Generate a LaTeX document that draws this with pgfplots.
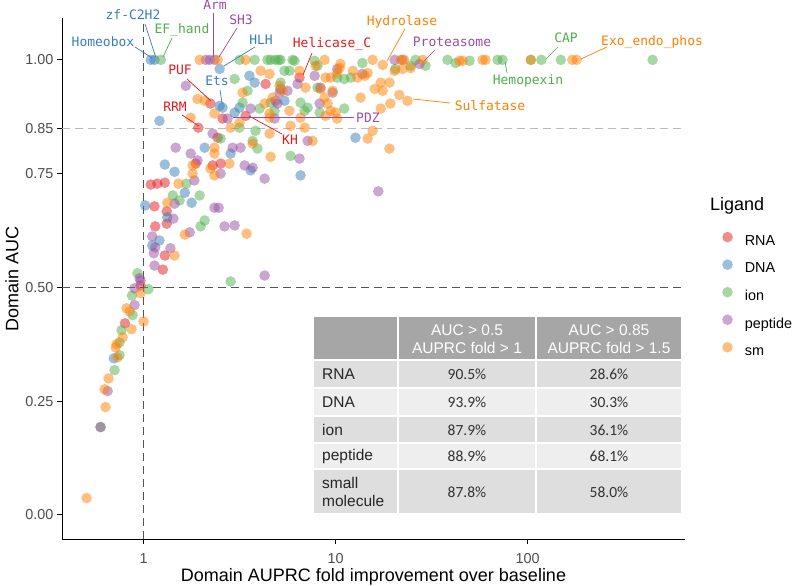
\documentclass[border=0pt]{standalone}
\usepackage{pgfplots}
\pgfplotsset{compat=1.18}
\usepackage{fontspec}
\setmainfont{Liberation Sans}
\newfontfamily\mono{DejaVu Sans Mono}
\newfontfamily\calib{Carlito}

\definecolor{cRNA}{HTML}{E41A1C}
\definecolor{cDNA}{HTML}{377EB8}
\definecolor{cion}{HTML}{4DAF4A}
\definecolor{cpep}{HTML}{984EA3}
\definecolor{csm}{HTML}{FF7F00}
\definecolor{tickgray}{HTML}{4D4D4D}
\definecolor{hdr}{HTML}{A6A6A6}
\definecolor{rowA}{HTML}{DEDEDE}
\definecolor{rowB}{HTML}{EEEEEE}
\definecolor{refdark}{HTML}{555555}
\definecolor{reflight}{HTML}{BBBBBB}

\pgfplotsset{
  pts/.style={only marks, mark=*, mark size=5.3pt, color=#1,
    mark options={draw=none, draw opacity=0, fill=#1, fill opacity=0.5}},
}

\begin{document}
\begin{tikzpicture}
\useasboundingbox (0,0) rectangle (795pt,586pt);
\begin{axis}[
  at={(62pt,47pt)}, anchor=south west,
  scale only axis, width=623pt, height=521pt,
  xmode=log, xmin=0.376, xmax=661,
  ymin=-0.053, ymax=1.092,
  clip=false,
  axis x line*=bottom, axis y line*=left,
  axis line style={-, line width=0.8pt},
  tick align=outside, major tick length=5pt,
  tick style={black, line width=0.8pt},
  xtick={1,10,100}, xticklabels={1,10,100},
  xminorticks=false,
  ytick={0,0.25,0.5,0.75,0.85,1},
  yticklabels={0.00,0.25,0.50,0.75,0.85,1.00},
  ticklabel style={font=\fontsize{14.4}{16}\selectfont, text=tickgray},
  xticklabel style={yshift=-6pt},
  xlabel={Domain AUPRC fold improvement over baseline},
  ylabel={Domain AUC},
  xlabel style={at={(axis description cs:0.5,-0.073)}, anchor=center,
    font=\fontsize{18}{21}\selectfont},
  ylabel style={at={(axis description cs:-0.0803,0.5)}, anchor=center,
    font=\fontsize{18}{21}\selectfont},
  legend style={at={(axis description cs:1.0594,0.590)}, anchor=north west,
    draw=none, fill=none, inner sep=0pt,
    font=\fontsize{14.4}{16}\selectfont,
    nodes={inner sep=0pt, text height=10.5pt, text depth=3pt},
    column sep=12pt, row sep=11pt},
  legend cell align=left,
  legend image code/.code={\draw[mark repeat=2,mark phase=2,#1]
    plot coordinates {(0pt,4.5pt) (5pt,4.5pt) (10pt,4.5pt)};},
]
% reference lines
\draw[reflight, line width=1.1pt, dash pattern=on 8pt off 5pt]
  (axis cs:0.376,0.85) -- (axis cs:661,0.85);
\draw[refdark, line width=1.1pt, dash pattern=on 8pt off 5pt]
  (axis cs:0.376,0.5) -- (axis cs:661,0.5);
\draw[refdark, line width=1.1pt, dash pattern=on 8pt off 5pt]
  (axis cs:1,-0.053) -- (axis cs:1,1.092);

% RNA
\addplot[pts=cRNA] coordinates {
(2.23,0.904) (1.93,0.851) (2.58,0.871) (3.40,0.877) (4.32,0.947) (6.49,0.961)
(2.43,0.829) (2.52,0.772) (1.87,0.772) (2.29,0.768) (1.09,0.726) (1.18,0.728)
(1.29,0.730) (1.14,0.678) (1.32,0.667) (1.32,0.640) (1.15,0.634) (1.29,0.570)
(1.26,0.539) (0.80,0.421) (0.965,0.504)
};
\addlegendentry{RNA}
% DNA
\addplot[pts=cDNA] coordinates {
(1.09,1.00) (1.14,1.00) (2.49,0.980) (2.49,0.899) (2.58,0.895) (1.21,0.866)
(3.56,0.965) (3.79,0.950) (2.98,0.884) (3.16,0.895) (5.17,0.936) (5.42,0.910)
(12.7,0.829) (6.57,0.746) (2.08,0.807) (2.84,0.794) (3.61,0.757) (1.29,0.770)
(1.45,0.754) (1.64,0.708) (1.78,0.686) (1.02,0.680) (1.33,0.654) (1.21,0.603)
(1.11,0.592) (0.70,0.344)
};
\addlegendentry{DNA}
% ion
\addplot[pts=cion] coordinates {
(1.23,1.00) (3.16,1.00) (3.79,1.00) (4.42,1.00) (4.59,1.00) (4.87,1.00)
(5.05,1.00) (5.17,1.00) (5.97,1.00) (6.11,0.998) (7.78,0.998) (8.06,0.987)
(5.42,0.976) (5.76,0.976) (13.8,0.993) (20.5,0.980) (24.6,0.987) (26.1,1.00)
(29.4,0.987) (38.3,1.00) (42.2,0.993) (49.9,0.998) (69.8,1.00) (74.1,1.00)
(104,1.00) (118,1.00) (149,1.00) (448,1.00) (10.2,0.961) (11.1,0.958)
(12.0,0.961) (2.98,0.958) (5.17,0.950) (3.48,0.932) (3.28,0.906) (4.02,0.893)
(4.81,0.888) (6.57,0.906) (7.15,0.895) (8.26,0.884) (11.1,0.893) (4.59,0.906)
(8.06,0.939) (3.83,0.844) (3.70,0.822) (3.16,0.851) (2.52,0.827) (3.92,0.805)
(5.83,0.789) (1.67,0.728) (1.42,0.702) (1.54,0.691) (1.96,0.702) (2.08,0.647)
(1.98,0.634) (2.84,0.513) (1.06,0.496) (0.93,0.531) (0.87,0.482) (0.877,0.439)
(0.768,0.406) (0.75,0.379) (0.75,0.351) (0.706,0.318) (0.597,0.193) (6.90,0.888)
};
\addlegendentry{ion}
% peptide
\addplot[pts=cpep] coordinates {
(2.11,1.00) (2.21,1.00) (2.34,1.00) (20.3,1.00) (22.3,1.00) (27.4,0.991)
(1.66,0.943) (4.87,0.910) (5.11,0.928) (5.62,0.932) (6.34,0.947) (7.78,0.965)
(10.2,0.980) (13.8,0.969) (9.65,0.928) (8.35,0.939) (8.26,0.904) (4.99,0.904)
(3.61,0.893) (2.74,0.871) (4.81,0.871) (7.15,0.822) (6.49,0.783) (2.29,0.838)
(2.91,0.807) (3.20,0.807) (1.47,0.807) (1.76,0.794) (1.91,0.779) (3.36,0.768)
(3.70,0.763) (4.27,0.739) (2.52,0.750) (1.84,0.735) (16.7,0.711) (1.45,0.684)
(1.43,0.651) (2.34,0.675) (2.46,0.675) (1.74,0.621) (2.64,0.634) (2.98,0.636)
(1.11,0.612) (1.15,0.588) (1.13,0.575) (1.38,0.586) (1.14,0.548) (0.953,0.520)
(0.965,0.515) (4.27,0.526) (0.898,0.498) (0.898,0.461) (0.65,0.272) (0.597,0.193)
};
\addlegendentry{peptide}
% small molecule
\addplot[pts=csm] coordinates {
(1.96,1.00) (2.43,1.00) (3.40,1.00) (8.77,1.00) (10.6,0.991) (15.6,1.00)
(17.6,0.989) (21.8,1.00) (22.8,1.00) (28.4,1.00) (44.2,0.998) (45.9,0.998)
(58.3,1.00) (60.4,1.00) (104,1.00) (171,1.00) (180,1.00) (7.87,0.987)
(6.49,0.976) (4.07,0.976) (4.53,0.969) (10.5,0.982) (10.2,0.971) (12.3,0.976)
(14.2,0.965) (14.7,0.971) (20.3,0.976) (22.3,0.980) (24.6,0.982) (8.87,0.961)
(9.43,0.961) (13.0,0.961) (6.98,0.939) (5.11,0.943) (5.30,0.932) (8.35,0.936)
(9.65,0.932) (16.0,0.936) (17.6,0.932) (17.2,0.950) (19.1,0.950) (13.5,0.917)
(21.5,0.923) (23.7,0.910) (19.3,0.904) (17.2,0.893) (8.77,0.917) (9.09,0.904)
(9.43,0.888) (10.0,0.884) (10.2,0.871) (8.87,0.877) (5.75,0.888) (4.53,0.873)
(6.57,0.873) (5.83,0.855) (6.90,0.851) (15.6,0.844) (14.7,0.827) (7.59,0.822)
(19.1,0.805) (4.59,0.787) (4.70,0.917) (3.28,0.928) (1.91,0.914) (2.08,0.910)
(4.27,0.904) (4.53,0.882) (2.34,0.882) (1.76,0.873) (3.16,0.862) (2.84,0.851)
(4.53,0.838) (3.70,0.816) (2.34,0.807) (2.34,0.794) (2.80,0.772) (1.80,0.768)
(2.23,0.761) (1.80,0.750) (2.34,0.746) (1.52,0.728) (1.33,0.686) (1.64,0.616)
(3.44,0.618) (1.45,0.570) (0.965,0.487) (0.815,0.454) (0.846,0.447) (1.0,0.425)
(0.866,0.408) (0.778,0.390) (0.723,0.375) (0.715,0.368) (0.732,0.346) (0.657,0.300)
(0.626,0.276) (0.634,0.237) (0.505,0.037)
};
\addlegendentry{sm}
\end{axis}

% annotations in image pixel coordinates
\begin{scope}[x=1pt, y=-1pt, yshift=586pt]
  \tikzset{lab/.style={font=\mono\fontsize{13}{15}\selectfont, inner sep=0pt},
           lead/.style={line width=0.7pt}}
  % leader lines
  \draw[lead, cDNA] (145,24) -- (156,58);
  \draw[lead, cion] (172,38) -- (163,57);
  \draw[lead, cDNA] (135,47) -- (152,58);
  \draw[lead, cpep] (213,13) -- (213,57);
  \draw[lead, cpep] (237,28) -- (219,57);
  \draw[lead, cDNA] (255,47) -- (224,66);
  \draw[lead, cRNA] (312,53) -- (303,75);
  \draw[lead, cRNA] (187,79) -- (211,101);
  \draw[lead, cDNA] (220,90) -- (222,103);
  \draw[lead, cRNA] (182,115) -- (199,126);
  \draw[lead, cRNA] (282,134) -- (249,116);
  \draw[lead, cpep] (233,117) -- (354,117);
  \draw[lead, csm] (405,29) -- (387,61);
  \draw[lead, cpep] (435,50) -- (424,61);
  \draw[lead, cion] (558,47) -- (546,59);
  \draw[lead, csm] (607,47) -- (581,59);
  \draw[lead, cion] (507,73) -- (505,62);
  \draw[lead, csm] (450,103) -- (413,99);
  % labels
  \node[lab, text=cDNA] at (133,15) {zf-C2H2};
  \node[lab, text=cion] at (182,30) {EF\_hand};
  \node[lab, text=cDNA] at (103,42) {Homeobox};
  \node[lab, text=cpep] at (215,5) {Arm};
  \node[lab, text=cpep] at (241,20) {SH3};
  \node[lab, text=cDNA] at (261,40) {HLH};
  \node[lab, text=cRNA] at (332,44) {Helicase\_C};
  \node[lab, text=cRNA] at (180,70) {PUF};
  \node[lab, text=cDNA] at (217,81) {Ets};
  \node[lab, text=cRNA] at (175,107) {RRM};
  \node[lab, text=cRNA] at (290,140) {KH};
  \node[lab, text=cpep, anchor=west] at (356,118) {PDZ};
  \node[lab, text=csm] at (402,22) {Hydrolase};
  \node[lab, text=cpep] at (452,42) {Proteasome};
  \node[lab, text=cion] at (566,38) {CAP};
  \node[lab, text=csm, anchor=west] at (601,42) {Exo\_endo\_phos};
  \node[lab, text=cion] at (528,81) {Hemopexin};
  \node[lab, text=csm] at (490,106) {Sulfatase};

  % legend title
  \node[anchor=west, inner sep=0pt, font=\fontsize{18}{21}\selectfont] at (710,206) {Ligand};

  % summary table
  \fill[hdr] (314,317) rectangle (397,359);
  \fill[hdr] (399,317) rectangle (535,359);
  \fill[hdr] (537,317) rectangle (681,359);
  \foreach \ya/\yb/\c in {361/387/rowA, 389/415/rowB, 417/442/rowA, 444/468/rowB, 470/513/rowA}{
    \fill[\c] (314,\ya) rectangle (397,\yb);
    \fill[\c] (399,\ya) rectangle (535,\yb);
    \fill[\c] (537,\ya) rectangle (681,\yb);
  }
  \tikzset{tab/.style={font=\fontsize{15.5}{18.5}\selectfont, inner sep=0pt, text=black!85},
           num/.style={font=\calib\fontsize{15.5}{18.5}\selectfont, inner sep=0pt, text=black!80}}
  \node[tab, text=white, align=center] at (467,339) {AUC > 0.5\\AUPRC fold > 1};
  \node[tab, text=white, align=center] at (609,339) {AUC > 0.85\\AUPRC fold > 1.5};
  \node[tab, anchor=west] at (322,374) {RNA};
  \node[tab, anchor=west] at (322,402) {DNA};
  \node[tab, anchor=west] at (322,430) {ion};
  \node[tab, anchor=west] at (322,456) {peptide};
  \node[tab, anchor=west, align=left] at (322,492) {small\\molecule};
  \node[num] at (467,374) {90.5\%};  \node[num] at (609,374) {28.6\%};
  \node[num] at (467,402) {93.9\%};  \node[num] at (609,402) {30.3\%};
  \node[num] at (467,430) {87.9\%};  \node[num] at (609,430) {36.1\%};
  \node[num] at (467,456) {88.9\%};  \node[num] at (609,456) {68.1\%};
  \node[num] at (467,492) {87.8\%};  \node[num] at (609,492) {58.0\%};
\end{scope}
\end{tikzpicture}
\end{document}
